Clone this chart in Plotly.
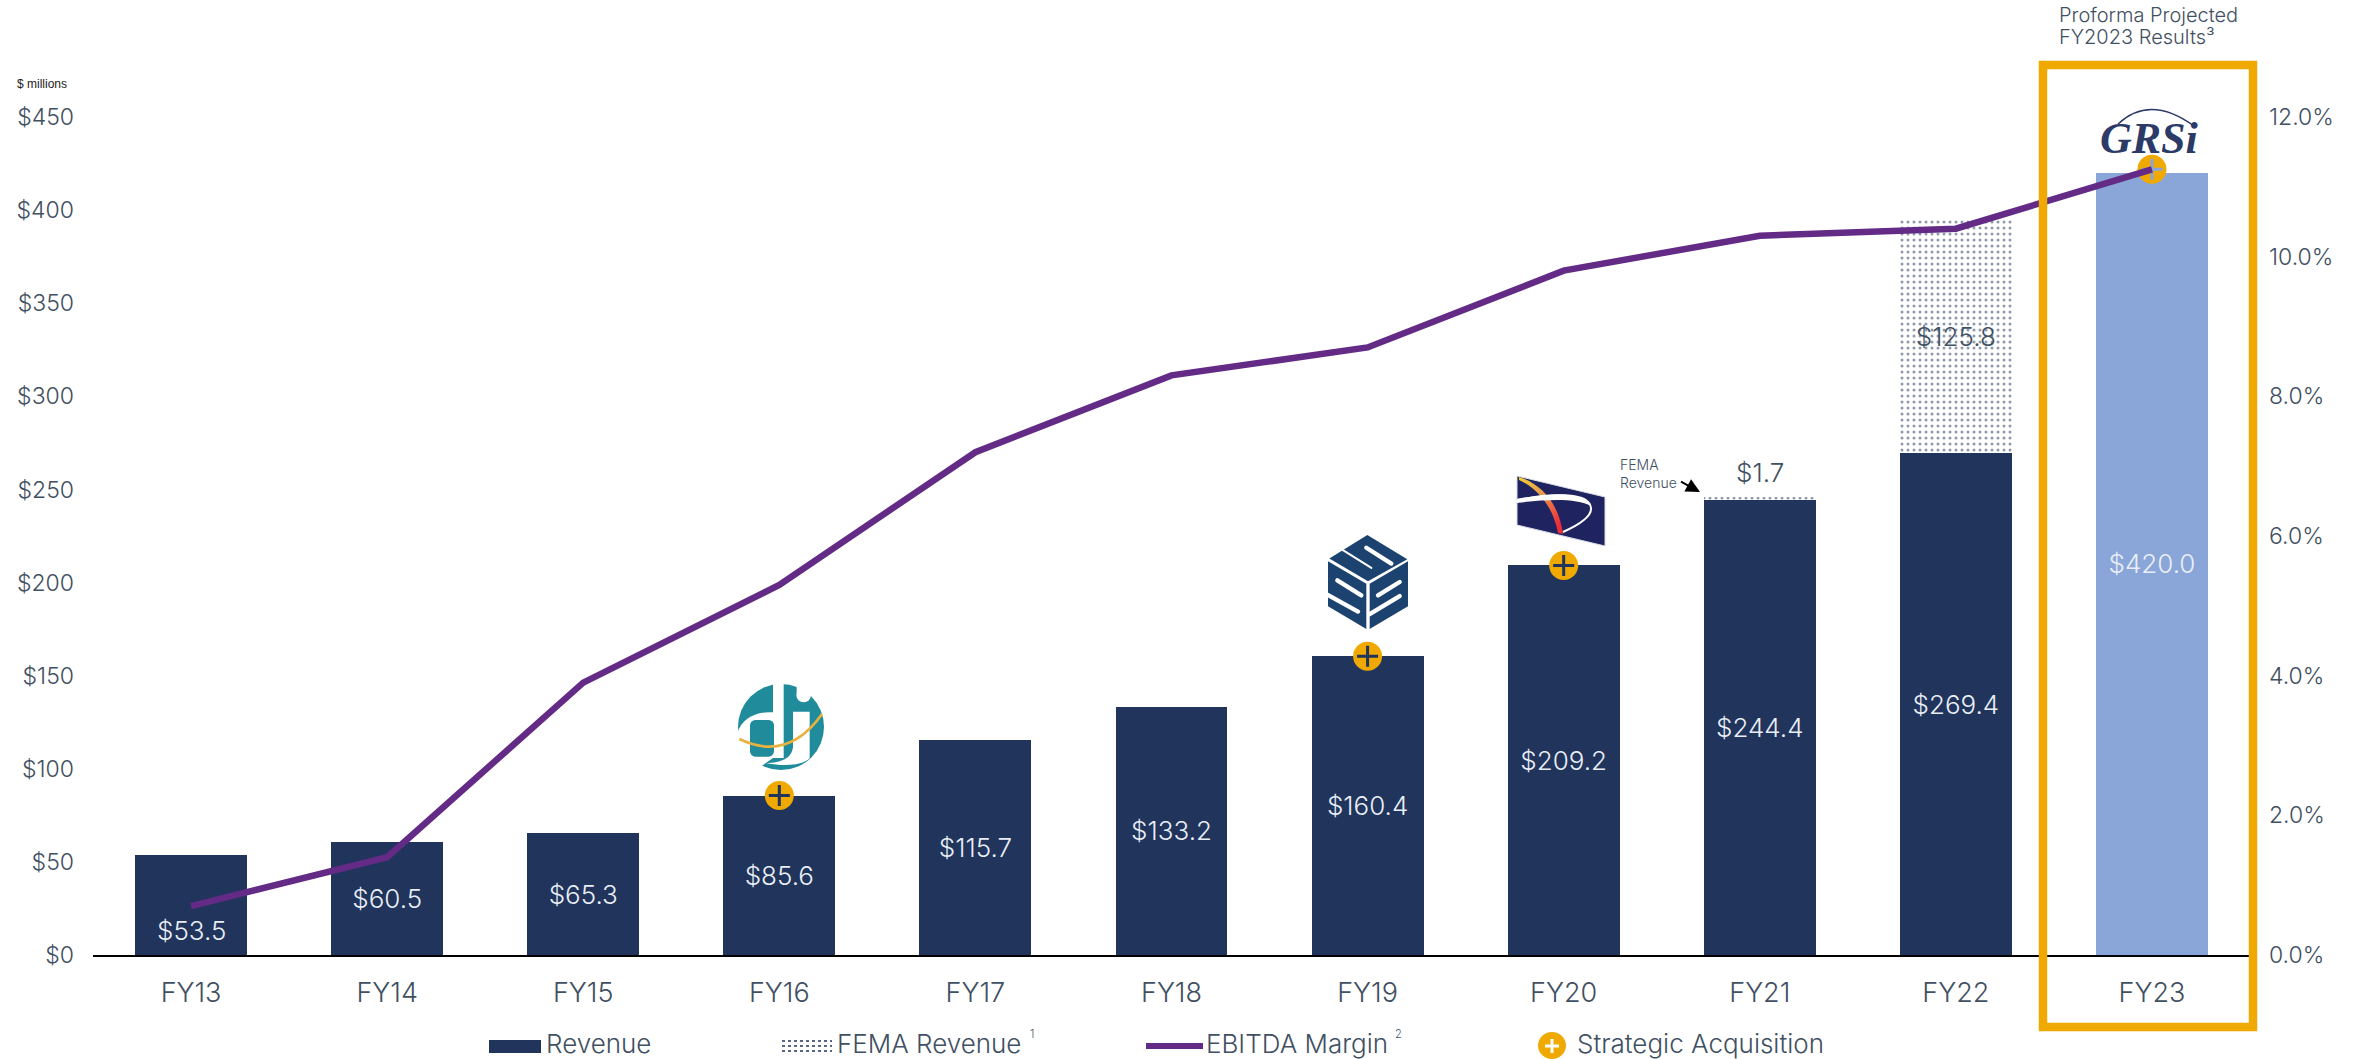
import base64
import plotly.graph_objects as go

W, H = 2356, 1059
L, R, T, B = 93, 2250, 117, 955

categories = ["FY13","FY14","FY15","FY16","FY17","FY18","FY19","FY20","FY21","FY22","FY23"]
revenue = [53.5,60.5,65.3,85.6,115.7,133.2,160.4,209.2,244.4,269.4,420.0]
fema = [None,None,None,None,None,None,None,None,1.7,125.8,None]
margin = [0.7,1.4,3.9,5.3,7.2,8.3,8.7,9.8,10.3,10.4,11.25]
acq_cats = ["FY16","FY19","FY20","FY23"]
acq_vals = [85.6,160.4,209.2,422.0]
left_ticks = [0,50,100,150,200,250,300,350,400,450]
right_ticks = [0,2,4,6,8,10,12]

NAVY="#20345c"; LIGHT="#8aa6d9"; GOLD="#f0a900"; PURPLE="#632a86"; TXT="#3f5062"; LBL="#e9eef6"
FONT="Inter"; WT=300

def fx(p): return (p-L)/(R-L)
def fy(p): return (B-p)/(B-T)
def uri(svg): return "data:image/svg+xml;base64,"+base64.b64encode(svg.encode()).decode()

fig = go.Figure()
fig.add_bar(name="Revenue", x=categories, y=revenue, width=0.571,
            marker=dict(color=[NAVY]*10+[LIGHT], line_width=0),
            text=[""]+[f"${v:.1f}" for v in revenue[1:]],
            textposition="inside", insidetextanchor="middle", textangle=0,
            insidetextfont=dict(family=FONT,size=26,color=LBL,weight=WT))
fig.add_bar(name="FEMA Revenue", x=categories, y=fema, width=0.571,
            marker=dict(color="white", line_width=0,
                        pattern=dict(shape=".", fgcolor=NAVY, bgcolor="white", size=6, solidity=0.2)),
            text=["" if (v is None or v<10) else f"${v:.1f}" for v in fema],
            textposition="inside", insidetextanchor="middle", textangle=0,
            insidetextfont=dict(family=FONT,size=26,color=TXT,weight=WT))
fig.add_scatter(name="EBITDA Margin", x=categories, y=margin, yaxis="y2", mode="lines",
                line=dict(color=PURPLE,width=6.5,shape="linear"))
fig.add_scatter(name="Strategic Acquisition", x=acq_cats, y=acq_vals, mode="markers",
                marker=dict(symbol="circle",size=29,color=GOLD,line_width=0))
fig.add_scatter(x=acq_cats, y=acq_vals, mode="markers", showlegend=False, hoverinfo="skip",
                marker=dict(symbol="cross-thin",size=15,color=NAVY,
                            line=dict(width=3,color=[NAVY,NAVY,NAVY,LIGHT])))

tickfont=dict(family=FONT,size=23,color=TXT,weight=WT)
fig.update_layout(width=W,height=H,autosize=False,
    margin=dict(l=L,r=W-R,t=T,b=H-B,autoexpand=False),
    paper_bgcolor="white",plot_bgcolor="white",barmode="stack",showlegend=False,
    xaxis=dict(type="category",categoryorder="array",categoryarray=categories,range=[-0.5,10.5],showgrid=False,zeroline=False,showline=True,
               linecolor="black",linewidth=2,ticks="",ticklabelstandoff=13,tickfont=dict(family=FONT,size=27,color=TXT,weight=WT)),
    yaxis=dict(range=[0,450],tickmode="array",tickvals=left_ticks,ticktext=[f"${v}" for v in left_ticks],showgrid=False,zeroline=False,showline=False,
               ticks="",ticklabelstandoff=18,tickfont=tickfont),
    yaxis2=dict(range=[0,12],tickmode="array",tickvals=right_ticks,ticktext=[f"{v:.1f}%" for v in right_ticks],overlaying="y",side="right",
                showgrid=False,zeroline=False,showline=False,ticks="",ticklabelstandoff=18,tickfont=tickfont),
)

def note(text,px,py,size=26,color=TXT,anchor="left",fam=FONT,wt=WT,style="normal"):
    fig.add_annotation(text=text,xref="paper",yref="paper",x=fx(px),y=fy(py),showarrow=False,
        xanchor=anchor,yanchor="middle",align="left",font=dict(family=fam,size=size,color=color,weight=wt,style=style))

# labels tied to the data
fig.add_annotation(text=f"${revenue[0]:.1f}",x="FY13",y=revenue[0]/2,yshift=-25,showarrow=False,
                   font=dict(family=FONT,size=26,color=LBL,weight=WT))
fig.add_annotation(text=f"${fema[8]:.1f}",x="FY21",y=revenue[8]+fema[8],yshift=24,showarrow=False,
                   font=dict(family=FONT,size=26,color=TXT,weight=WT))

note("$ millions",15,84,size=12,color="#222222",fam="Liberation Sans",wt=400)
note("Proforma Projected",2057,15,size=20)
note("FY2023 Results³",2057,37,size=20)
note("FEMA<br>Revenue",1618,473,size=14)
fig.add_annotation(text=" ",xref="paper",yref="paper",x=fx(1700),y=fy(492),axref="pixel",ayref="pixel",ax=-22,ay=-12,
                   showarrow=True,arrowhead=2,arrowsize=1.4,arrowwidth=2,arrowcolor="black")
note("GRSi",2149,138,size=44,color="#2b3a67",anchor="center",fam="Liberation Serif",wt=700,style="italic")

# highlight box
fig.add_shape(type="rect",xref="paper",yref="paper",x0=fx(2043),x1=fx(2253),y0=fy(1027),y1=fy(65),
              line=dict(color=GOLD,width=8.5))
# GRSi swoosh
fig.add_shape(type="path",xref="paper",yref="paper",
              path=f"M {fx(2118)} {fy(124)} Q {fx(2150)} {fy(94)} {fx(2194)} {fy(126)}",
              line=dict(color="#2b3a67",width=1.5))

# legend row
fig.add_shape(type="rect",xref="paper",yref="paper",x0=fx(489),x1=fx(541),y0=fy(1053),y1=fy(1040),fillcolor=NAVY,line_width=0)
for yy in (1041,1046,1051):
    fig.add_shape(type="line",xref="paper",yref="paper",x0=fx(782),x1=fx(832),y0=fy(yy),y1=fy(yy),line=dict(color=NAVY,width=1.5,dash="dot"))
fig.add_shape(type="line",xref="paper",yref="paper",x0=fx(1146),x1=fx(1203),y0=fy(1046),y1=fy(1046),line=dict(color=PURPLE,width=6))
fig.add_shape(type="circle",xref="paper",yref="paper",x0=fx(1538),x1=fx(1566),y0=fy(1059),y1=fy(1032),fillcolor=GOLD,line_width=0)
fig.add_shape(type="line",xref="paper",yref="paper",x0=fx(1545),x1=fx(1559),y0=fy(1046),y1=fy(1046),line=dict(color="white",width=3))
fig.add_shape(type="line",xref="paper",yref="paper",x0=fx(1552),x1=fx(1552),y0=fy(1053),y1=fy(1039),line=dict(color="white",width=3))
note("Revenue",544,1043)
note("FEMA Revenue",835,1043)
note("1",1028,1034,size=11)
note("EBITDA Margin",1204,1043)
note("2",1393,1034,size=11)
note("Strategic Acquisition",1575,1043)

# logos
di = '''<svg xmlns="http://www.w3.org/2000/svg" viewBox="0 0 258 258"><circle cx="129" cy="129" r="129" fill="#1f8b9b"/>
<rect x="105" y="-2" width="32" height="224" fill="#fff"/>
<path d="M105 85 C50 80 5 110 -2 150 L-2 262 L72 245 L105 222Z" fill="#fff"/>
<rect x="36" y="108" width="72" height="110" rx="16" fill="#1f8b9b"/>
<path d="M165 83 L215 83 L215 223 C200 240 150 250 85 238 C130 235 160 225 165 190Z" fill="#fff"/>
<circle cx="197" cy="33" r="22" fill="#fff"/><rect x="176" y="-2" width="30" height="30" fill="#fff"/>
<path d="M4 165 Q150 235 252 90" fill="none" stroke="#e8b23f" stroke-width="8"/></svg>'''
cube = '''<svg xmlns="http://www.w3.org/2000/svg" viewBox="0 0 240 280"><g fill="#1c4270">
<polygon points="118,0 238,72 120,138 4,70"/><polygon points="0,78 115,145 115,280 0,212"/><polygon points="240,78 125,145 125,280 240,212"/></g>
<g stroke="#fff" stroke-width="13" stroke-linecap="round" fill="none"><path d="M115 38 L190 85"/><path d="M40 42 L130 98" stroke-width="6"/>
<path d="M28 135 L100 180"/><path d="M-2 178 L90 228"/><path d="M150 180 L215 140"/><path d="M125 236 L215 182"/></g></svg>'''
flag = '''<svg xmlns="http://www.w3.org/2000/svg" viewBox="-1 -1 90 72"><defs><linearGradient id="g" x1="0" y1="0" x2="0.6" y2="1"><stop offset="0" stop-color="#f2d238"/><stop offset="0.5" stop-color="#e8914a"/><stop offset="1" stop-color="#ee2d3a"/></linearGradient></defs>
<polygon points="0,0 88,21 88,70 0,49" fill="#1f2460" stroke="#d8dce6" stroke-width="1"/>
<path d="M2 1 C25 8 42 28 46 58 L41 57 C36 30 20 12 2 4Z" fill="url(#g)"/>
<path d="M0 24 C40 17 72 16 74 32 C75 42 55 52 46 56" fill="none" stroke="#fff" stroke-width="2"/><path d="M0 23 C40 15 66 17 74 30 C60 22 30 23 0 27Z" fill="#fff"/></svg>'''
def logo(svg,x0,y0,x1,y1):
    fig.add_layout_image(source=uri(svg),xref="paper",yref="paper",x=fx(x0),y=fy(y0),sizex=fx(x1)-fx(x0),sizey=fy(y0)-fy(y1),
                         xanchor="left",yanchor="top",sizing="stretch",layer="above")
logo(di,738,684,824,770)
logo(cube,1328,535,1408,629)
logo(flag,1516,475,1606,547)

fig.write_html("out.html",config={"displayModeBar":False},
               post_script="document.body.style.margin='0';document.documentElement.style.overflow='hidden';")
